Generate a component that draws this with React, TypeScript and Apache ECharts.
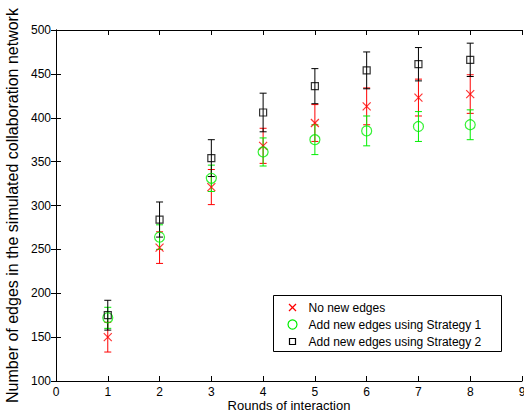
import React, { useEffect, useRef } from "react";
import * as echarts from "echarts";

const rounds = [1, 2, 3, 4, 5, 6, 7, 8];
const noNewMean = [150, 252, 321, 368, 394, 413, 423, 427];
const noNewErr = [17, 18, 20, 20, 21, 21, 21, 22];
const s1Mean = [172, 264, 331, 361, 375, 385, 390, 392];
const s1Err = [12, 14, 15, 16, 17, 17, 17, 17];
const s2Mean = [175, 284, 354, 406, 436, 454, 461, 466];
const s2Err = [17, 20, 21, 22, 20, 21, 19, 19];

const seriesNames = [
  "No new edges",
  "Add new edges using Strategy 1",
  "Add new edges using Strategy 2",
];
const xTitle = "Rounds of interaction";
const yTitle = "Number of edges in the simulated collaboration network";

const FONT = "Liberation Sans, Arial, Helvetica, sans-serif";

function errData(mean: number[], err: number[]) {
  return rounds.map((r, i) => [r, mean[i] - err[i], mean[i] + err[i]]);
}
function ptData(mean: number[]) {
  return rounds.map((r, i) => [r, mean[i]]);
}

function errSeries(name: string, mean: number[], err: number[], color: string) {
  return {
    type: "custom",
    name: name + " err",
    data: errData(mean, err),
    encode: { x: 0, y: [1, 2] },
    renderItem: (params: any, api: any) => {
      const x = api.value(0);
      const lo = api.coord([x, api.value(1)]);
      const hi = api.coord([x, api.value(2)]);
      const w = 3.5;
      const st = { stroke: color, lineWidth: 1 };
      return {
        type: "group",
        children: [
          { type: "line", shape: { x1: lo[0], y1: lo[1], x2: hi[0], y2: hi[1] }, style: st },
          { type: "line", shape: { x1: lo[0] - w, y1: lo[1], x2: lo[0] + w, y2: lo[1] }, style: st },
          { type: "line", shape: { x1: hi[0] - w, y1: hi[1], x2: hi[0] + w, y2: hi[1] }, style: st },
        ],
      };
    },
  };
}

export default function App() {
  const ref = useRef<HTMLDivElement>(null);
  useEffect(() => {
    if (!ref.current) return;
    const chart = echarts.init(ref.current, null, { renderer: "svg" });
    const axisCommon = {
      type: "value",
      axisLine: { show: true, lineStyle: { color: "#000", width: 1 } },
      axisTick: { show: true, inside: true, length: 5, lineStyle: { color: "#000" } },
      splitLine: { show: false },
    };
    const lx = 273, ly = 295;
    chart.setOption({
      animation: false,
      backgroundColor: "#fff",
      textStyle: { fontFamily: FONT },
      grid: { left: 56, right: 2, top: 30, bottom: 32, containLabel: false, outerBoundsMode: "none" },
      xAxis: [
        {
          ...axisCommon,
          min: 0,
          max: 9,
          interval: 1,
          axisLabel: { fontSize: 12, lineHeight: 11, color: "#000", margin: 5, fontFamily: FONT, showMaxLabel: true },
        },
        {
          ...axisCommon,
          position: "top",
          min: 0,
          max: 9,
          interval: 1,
          axisLabel: { show: false },
        },
      ],
      yAxis: [
        {
          ...axisCommon,
          min: 100,
          max: 500,
          interval: 50,
          name: yTitle,
          nameLocation: "middle",
          nameGap: 35,
          nameTextStyle: { fontSize: 16, color: "#000", fontFamily: FONT },
          axisLabel: { fontSize: 12, color: "#000", margin: 5, fontFamily: FONT },
        },
        {
          ...axisCommon,
          position: "right",
          min: 100,
          max: 500,
          interval: 50,
          axisLabel: { show: false },
        },
      ],
      series: [
        errSeries(seriesNames[0], noNewMean, noNewErr, "#ff0000"),
        {
          type: "scatter",
          name: seriesNames[0],
          data: ptData(noNewMean),
          symbol: "path://M0 0L10 10M10 0L0 10",
          symbolSize: 8,
          itemStyle: { color: "none", borderColor: "#ff0000", borderWidth: 1.2 },
        },
        errSeries(seriesNames[1], s1Mean, s1Err, "#00ee00"),
        {
          type: "scatter",
          name: seriesNames[1],
          data: ptData(s1Mean),
          symbol: "circle",
          symbolSize: 10,
          itemStyle: { color: "none", borderColor: "#00ee00", borderWidth: 1.2 },
        },
        errSeries(seriesNames[2], s2Mean, s2Err, "#000000"),
        {
          type: "scatter",
          name: seriesNames[2],
          data: ptData(s2Mean),
          symbol: "rect",
          symbolSize: 7,
          itemStyle: { color: "none", borderColor: "#000000", borderWidth: 1.2 },
        },
      ],
      graphic: [
        {
          type: "text",
          x: 289,
          y: 405,
          style: { text: xTitle, fontSize: 13, lineHeight: 13, fontFamily: FONT, fill: "#000", align: "center", verticalAlign: "middle" },
        },
        {
          type: "group",
          left: lx,
          top: ly,
          children: [
            { type: "rect", shape: { x: 0, y: 0, width: 228, height: 56 }, style: { fill: "#fff", stroke: "#000", lineWidth: 1 } },
            { type: "line", shape: { x1: 15.5, y1: 8.5, x2: 22.5, y2: 15.5 }, style: { stroke: "#ff0000", lineWidth: 1.2 } },
            { type: "line", shape: { x1: 22.5, y1: 8.5, x2: 15.5, y2: 15.5 }, style: { stroke: "#ff0000", lineWidth: 1.2 } },
            { type: "circle", shape: { cx: 19, cy: 29, r: 4.5 }, style: { fill: "none", stroke: "#00ee00", lineWidth: 1.2 } },
            { type: "rect", shape: { x: 16, y: 43, width: 6, height: 6 }, style: { fill: "none", stroke: "#000", lineWidth: 1.2 } },
            { type: "text", x: 35, y: 12, style: { text: seriesNames[0], fontSize: 12, fontFamily: FONT, fill: "#000", verticalAlign: "middle" } },
            { type: "text", x: 35, y: 29, style: { text: seriesNames[1], fontSize: 12, fontFamily: FONT, fill: "#000", verticalAlign: "middle" } },
            { type: "text", x: 35, y: 46, style: { text: seriesNames[2], fontSize: 12, fontFamily: FONT, fill: "#000", verticalAlign: "middle" } },
          ],
        },
      ],
    });
    return () => chart.dispose();
  }, []);
  return (
    <div
      ref={ref}
      style={{ position: "fixed", left: 0, top: 0, width: 524, height: 413, background: "#fff" }}
    />
  );
}
